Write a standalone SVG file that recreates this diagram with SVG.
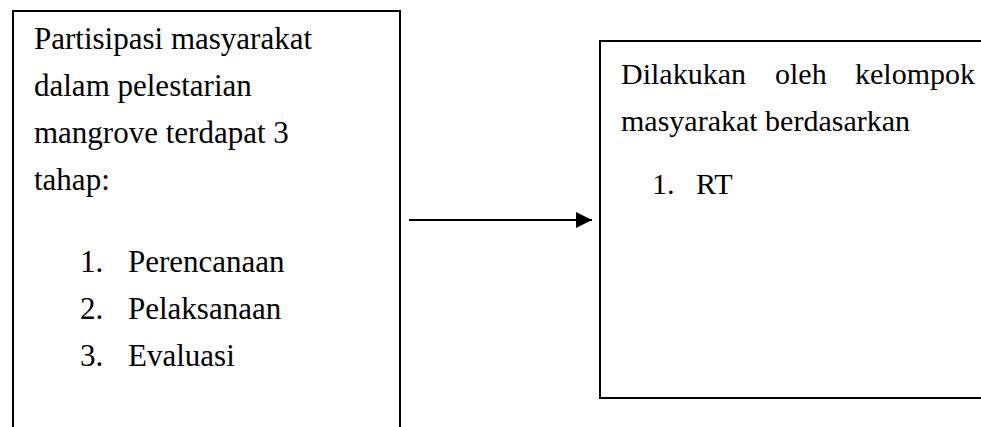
<svg xmlns="http://www.w3.org/2000/svg" width="981" height="427" viewBox="0 0 981 427">
<style>
.t{font-family:"Liberation Serif","Times New Roman",serif;font-size:31px;fill:#000}
.r{font-size:30px}
.box{fill:none;stroke:#000;stroke-width:2}
</style>
<defs>
<marker id="ah" markerWidth="8" markerHeight="8" refX="8" refY="4" orient="auto" markerUnits="strokeWidth">
<path d="M0,0 L8,4 L0,8 Z" fill="#000"/>
</marker>
</defs>
<rect width="981" height="427" fill="#fff"/>
<g id="left">
<path class="box" d="M13,428 V11 H400 V428"/>
<text class="t" x="34" y="49">Partisipasi masyarakat</text>
<text class="t" x="34" y="96">dalam pelestarian</text>
<text class="t" x="34" y="143">mangrove terdapat 3</text>
<text class="t" x="34" y="190">tahap:</text>
<text class="t" x="80" y="272">1.</text><text class="t" x="128" y="272">Perencanaan</text>
<text class="t" x="80" y="319">2.</text><text class="t" x="128" y="319">Pelaksanaan</text>
<text class="t" x="80" y="366">3.</text><text class="t" x="128" y="366">Evaluasi</text>
</g>
<g id="right">
<path class="box" d="M982,41 H600 V398 H982"/>
<text class="t r" x="621" y="84">Dilakukan<tspan x="775">oleh</tspan><tspan x="975" text-anchor="end">kelompok</tspan></text>
<text class="t r" x="621" y="131">masyarakat berdasarkan</text>
<text class="t r" x="652" y="194">1.</text><text class="t r" x="696" y="194">RT</text>
</g>
<g id="connectors">
<line x1="409" y1="220" x2="592" y2="220" stroke="#000" stroke-width="2" marker-end="url(#ah)"/>
</g>
</svg>
